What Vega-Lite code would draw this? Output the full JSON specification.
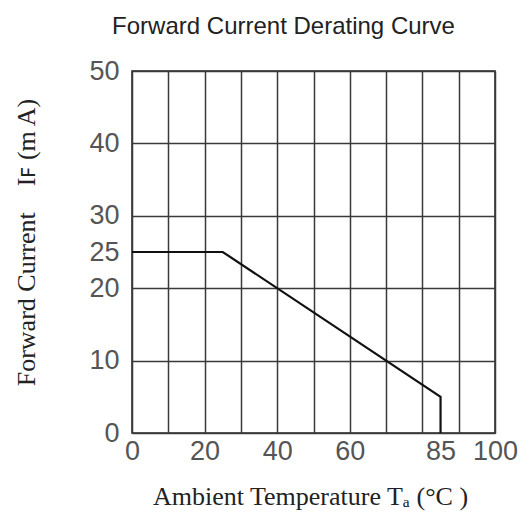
{
  "$schema": "https://vega.github.io/schema/vega-lite/v6.json",
  "width": 363,
  "height": 362,
  "autosize": {"type": "none"},
  "padding": {"left": 132, "top": 71, "right": 34, "bottom": 80},
  "background": "white",
  "title": {
    "text": "Forward Current Derating Curve",
    "font": "Liberation Sans",
    "fontSize": 24,
    "fontWeight": "normal",
    "color": "#222",
    "anchor": "middle",
    "dx": -30,
    "offset": 18
  },
  "config": {
    "view": {"stroke": "#222", "strokeWidth": 1.5},
    "axis": {
      "labelFont": "Liberation Sans",
      "labelFontSize": 27,
      "labelColor": "#555555",
      "titleFont": "Liberation Serif",
      "titleFontSize": 26,
      "titleFontWeight": "normal",
      "titleColor": "#222",
      "ticks": false,
      "domain": false,
      "gridWidth": 1.5
    }
  },
  "data": {
    "values": [
      {"i": 1, "temp": 0, "current": 25},
      {"i": 2, "temp": 25, "current": 25},
      {"i": 3, "temp": 85, "current": 5},
      {"i": 4, "temp": 85, "current": 0}
    ]
  },
  "mark": {"type": "line", "color": "#111", "strokeWidth": 2.2},
  "encoding": {
    "order": {"field": "i", "type": "quantitative"},
    "x": {
      "field": "temp",
      "type": "quantitative",
      "scale": {"domain": [0, 100], "nice": false},
      "axis": {
        "values": [0, 10, 20, 30, 40, 50, 60, 70, 80, 85, 90, 100],
        "labelExpr": "indexof([0,20,40,60,85,100], datum.value) >= 0 ? datum.label : ''",
        "grid": true,
        "gridColor": {"condition": {"test": "datum.value == 85", "value": "rgba(0,0,0,0)"}, "value": "#3a3a3a"},
        "labelPadding": 5,
        "labelFlush": false,
        "labelOverlap": false,
        "title": "Ambient Temperature Tₐ (°C )",
        "titleX": 178,
        "titleY": 63,
        "titleBaseline": "middle"
      }
    },
    "y": {
      "field": "current",
      "type": "quantitative",
      "scale": {"domain": [0, 50], "nice": false},
      "axis": {
        "values": [0, 10, 20, 25, 30, 40, 50],
        "grid": true,
        "gridColor": {"condition": {"test": "datum.value == 25", "value": "rgba(0,0,0,0)"}, "value": "#3a3a3a"},
        "labelPadding": 13,
        "labelFlush": false,
        "labelOverlap": false,
        "title": "Forward Current \u00a0\u00a0\u00a0Iꜰ (m A)",
        "titleAngle": -90,
        "titleX": -106,
        "titleY": 171,
        "titleAlign": "center",
        "titleBaseline": "middle"
      }
    }
  }
}
